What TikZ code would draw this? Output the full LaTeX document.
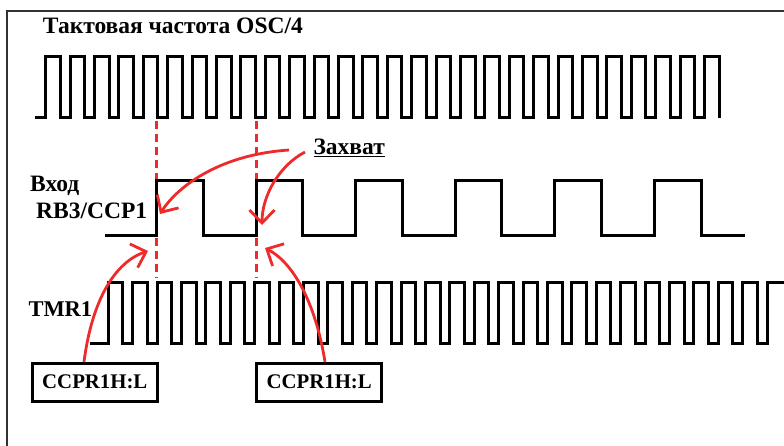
\documentclass[tikz,border=0pt]{standalone}
\usepackage{fontspec}
\setmainfont{Liberation Serif}
\usetikzlibrary{arrows.meta}
\definecolor{capred}{RGB}{238,42,42}
\definecolor{framegray}{RGB}{50,50,50}
\begin{document}
\begin{tikzpicture}[x=1pt,y=-1pt,
  wave/.style={line width=3pt, black, line join=miter},
  lbl/.style={inner sep=0pt, anchor=base west, font=\bfseries\fontsize{23.5}{26}\selectfont},
  regbox/.style={draw, line width=3pt, minimum width=125pt, minimum height=37.7pt, inner sep=0pt, font=\bfseries\fontsize{20.8}{24}\selectfont},
  marker/.style={capred, line width=3pt, dash pattern=on 8pt off 5pt},
  capt/.style={capred, line width=2.8pt, -{Straight Barb[length=13pt,width=25pt,line width=2.8pt]}}]
\useasboundingbox (0,0) rectangle (784,445);
% frame
\draw[framegray, line width=1.3pt] (7,450) -- (7,11) -- (790,11);
% texts
\node[lbl] (title) at (42.7,33) {Тактовая частота OSC/4};
\node[lbl] (vhod) at (30,191.7) {Вход};
\node[lbl] (rb3) at (36,218.3) {RB3/CCP1};
\node[lbl] (zah) at (313.3,154.3) {\underline{Захват}};
\node[lbl, font=\bfseries\fontsize{22.5}{26}\selectfont] (tmr) at (28.3,316.7) {TMR1};
\node[regbox] (box1) at (94.8,382.2) {CCPR1H:L};
\node[regbox] (box2) at (319.2,382.2) {CCPR1H:L};
% marker lines
\coordinate (m1t) at (156.5,121);
\coordinate (m1b) at (156.5,278);
\coordinate (m2t) at (256,121);
\coordinate (m2b) at (256,278);
\draw[marker] (m1t) -- (m1b);
\draw[marker] (m2t) -- (m2b);
% clock OSC/4
\draw[wave] (35,117.5) foreach \k in {0,...,27} { -- ({45.7+24.4*\k},117.5) -- ++(0,-61) -- ++(14.5,0) -- ++(0,61) };
% input RB3/CCP1
\draw[wave] (105,235.7) foreach \k in {0,...,5} { -- ({156.5+99.6*\k},235.7) -- ++(0,-55.4) -- ++(46.5,0) -- ++(0,55.4) } -- (745,235.7);
% TMR1
\draw[wave] (90,343.5) foreach \k in {0,...,26} { -- ({108.3+24.4*\k},343.5) -- ++(0,-61.2) -- ++(14.5,0) -- ++(0,61.2) } -- (767.1,343.5) -- ++(0,-61.2) -- (790,282.3);
% capture arrows
\coordinate (z1) at (289,150);
\coordinate (z2) at (305,152);
\coordinate (t1) at (160,214);
\coordinate (t2) at (262,225);
\coordinate (t3) at (148,251);
\coordinate (t4) at (265,248);
\draw[capt] (z1) .. controls (215,155) and (175,190) .. (t1);
\draw[capt] (z2) .. controls (280,165) and (262,195) .. (t2);
\draw[capt] (box1.north -| 84,0) .. controls (92,300) and (115,262) .. (t3);
\draw[capt] (box2.north -| 325,0) .. controls (315,300) and (292,262) .. (t4);
\end{tikzpicture}
\end{document}
